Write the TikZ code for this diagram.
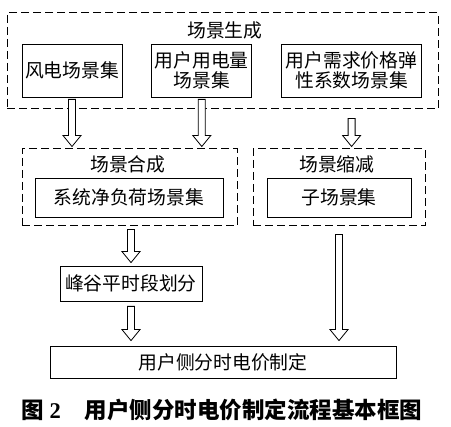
\documentclass[tikz,border=0pt]{standalone}
\usepackage{fontspec}
\setmainfont{Liberation Serif}
\newfontfamily\cjk{Noto Sans CJK SC}
\usepackage{tikz}
\usetikzlibrary{positioning,shapes,calc}
\tikzstyle{scenbox}=[rectangle, draw=black, line width=0.8pt, fill=white, text centered, align=center,
        inner sep=0pt, minimum height=53pt, font=\cjk\fontsize{18.8}{20.5}\selectfont]
\tikzstyle{groupbox}=[rectangle, draw=black, dash pattern=on 8pt off 4pt, line width=1pt, inner sep=0pt]
\tikzstyle{grouptitle}=[inner sep=0pt, font=\cjk\fontsize{18.8}{20.5}\selectfont]
\tikzstyle{hollowarrow}=[draw=black, line width=0.8pt, fill=white,
        to path={let \p1=(\tikztostart), \p2=(\tikztotarget) in
            (\x1-3.5pt,\y1) -- (\x1-3.5pt,\y2+11pt) -- (\x1-9pt,\y2+11pt) -- (\x1,\y2)
            -- (\x1+9pt,\y2+11pt) -- (\x1+3.5pt,\y2+11pt) -- (\x1+3.5pt,\y1) -- cycle}]

\begin{document}
\begin{tikzpicture}[x=1pt, y=-1pt]
    \useasboundingbox (0,0) rectangle (451,427);
    % scenario generation
    \node (genframe) [groupbox, minimum width=431pt, minimum height=96pt] at (222.5,61) {};
    \node (gentitle) [grouptitle] at (225,30) {场景生成};
    \node (wind) [scenbox, minimum width=100pt] at (72,70.5) {风电场景集};
    \node (load) [scenbox, minimum width=100pt, right=29pt of wind] {用户用电量\\场景集};
    \node (elastic) [scenbox, minimum width=140pt, right=29pt of load] {用户需求价格弹\\性系数场景集};
    % synthesis and reduction
    \node (synthframe) [groupbox, minimum width=215pt, minimum height=77pt] at (129.5,187.5) {};
    \node (synthtitle) [grouptitle] at (128,164) {场景合成};
    \node (netload) [scenbox, minimum width=188pt, minimum height=39pt] at (129,197.5) {系统净负荷场景集};
    \node (reduceframe) [groupbox, minimum width=172pt, minimum height=77pt, right=15pt of synthframe] {};
    \node (reducetitle) [grouptitle] at (337,164) {场景缩减};
    \node (subset) [scenbox, minimum width=144pt, minimum height=39pt] at (reduceframe.center |- netload) {子场景集};
    % pricing
    \node (period) [scenbox, minimum width=142pt, minimum height=35pt] at (131,283.5) {峰谷平时段划分};
    \node (pricing) [scenbox, minimum width=346pt, minimum height=32pt] at (223,362) {用户侧分时电价制定};
    \node (caption) [inner sep=0pt, font=\fontsize{22.5}{26}\selectfont] at (222,410)
        {{\cjk\bfseries 图} {\bfseries 2}\hspace{24pt}{\cjk\bfseries 用户侧分时电价制定流程基本框图}};

    \draw[hollowarrow] ([yshift=-2pt]wind.south) to ([yshift=2pt]wind.south |- synthframe.north);
    \draw[hollowarrow] ([yshift=-2pt]load.south) to ([yshift=2pt]load.south |- synthframe.north);
    \draw[hollowarrow] ([yshift=-9pt]elastic.south |- genframe.south) to ([yshift=2pt]elastic.south |- reduceframe.north);
    \draw[hollowarrow] ([yshift=-3pt]period.north |- synthframe.south) to ([yshift=3pt]period.north);
    \draw[hollowarrow] ([yshift=-8pt]subset.south |- reduceframe.south) to ([yshift=5pt]subset.south |- pricing.north);
    \draw[hollowarrow] ([yshift=-5pt]period.south) to ([yshift=5pt]period.south |- pricing.north);
\end{tikzpicture}
\end{document}
